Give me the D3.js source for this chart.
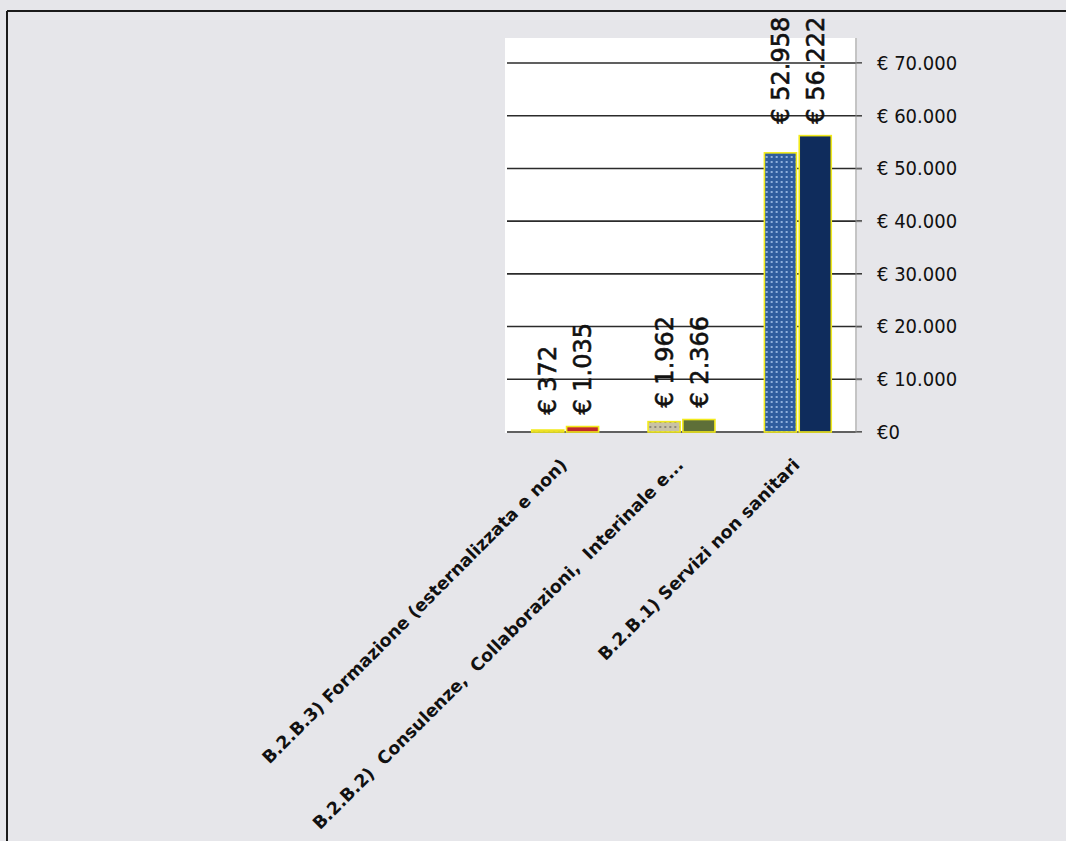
<!DOCTYPE HTML>
<html lang="it">
  <head>
    <meta charset="utf-8">
    <style>
      body{ margin:0; background:#e6e6ea; }
      .grid line{ stroke:#2b2b2b; stroke-width:1.6px; }
      .axis path, .axis line{ stroke:#8a8a8a; }
      .axis text{ font: 20px "DejaVu Sans Condensed", sans-serif; fill:#111; }
      .vlabel{ font: 24px "DejaVu Sans", sans-serif; fill:#111; stroke:#111; stroke-width:0.6px; }
      .clabel{ font: bold 17.5px "DejaVu Sans", sans-serif; fill:#111; white-space:pre; }
    </style>
  </head>
  <body>
    <script src="https://d3js.org/d3.v7.min.js"></script>
    <script>

      // dati (euro, migliaia)
      var categories = ["B.2.B.3) Formazione (esternalizzata e non)",
			"B.2.B.2)  Consulenze,  Collaborazioni,  Interinale e...",
			"B.2.B.1) Servizi non sanitari"];
      var series1 = [372, 1962, 52958];
      var series2 = [1035, 2366, 56222];
      var yTicks = [0, 10000, 20000, 30000, 40000, 50000, 60000, 70000];

      var solidColor = ["#c0282e", "#5e6f38", "#0f2c5c"];
      var patternBase = ["#d9b84a", "#c9c2a6", "#2f5d9e"];

      var W = 1066, H = 841;
      var plot = {left:507, right:856, top:38, bottom:432};

      var svg = d3.select("body").append("svg")
	  .attr("width", W)
	  .attr("height", H);

      // frame of the scanned page
      svg.append("line").attr("x1", 7).attr("x2", W).attr("y1", 11).attr("y2", 11)
	  .attr("stroke", "#1a1a1a").attr("stroke-width", 2.2);
      svg.append("line").attr("x1", 7).attr("x2", 7).attr("y1", 11).attr("y2", H)
	  .attr("stroke", "#1a1a1a").attr("stroke-width", 2);

      // patterns for first series
      var defs = svg.append("defs");
      patternBase.forEach(function(c, i){
	  var p = defs.append("pattern")
	      .attr("id", "pat" + i)
	      .attr("width", 5).attr("height", 5)
	      .attr("patternUnits", "userSpaceOnUse");
	  p.append("rect").attr("width", 5).attr("height", 5).attr("fill", c);
	  p.append("rect").attr("x", 1).attr("y", 1).attr("width", 2).attr("height", 2)
	      .attr("fill", i == 2 ? "#8fb0dc" : "#8e8a78");
      });

      // white plot area
      svg.append("rect")
	  .attr("x", plot.left - 2).attr("y", plot.top)
	  .attr("width", plot.right - plot.left + 3)
	  .attr("height", plot.bottom - plot.top + 1)
	  .attr("fill", "#ffffff");

      var x0 = d3.scaleBand().domain(categories)
	  .range([plot.left, plot.right]).paddingInner(0).paddingOuter(0);
      var x1 = d3.scaleBand().domain([0, 1])
	  .range([0, x0.bandwidth()]).paddingInner(0.08).paddingOuter(0.71);
      var y = d3.scaleLinear().domain([0, 70000])
	  .range([plot.bottom, plot.bottom - 369]);

      var it = d3.formatLocale({decimal:",", thousands:".", grouping:[3], currency:["€ ", ""]});
      var fmt = it.format(",.0f");

      // gridlines
      svg.append("g").attr("class", "grid")
	  .selectAll("line").data(yTicks).enter().append("line")
	  .attr("x1", plot.left).attr("x2", plot.right + 6)
	  .attr("y1", function(d){ return y(d); })
	  .attr("y2", function(d){ return y(d); });

      // right axis
      var axis = svg.append("g").attr("class", "axis")
	  .attr("transform", "translate(" + plot.right + ",0)")
	  .call(d3.axisRight(y).tickValues(yTicks).tickSize(6).tickPadding(15)
		.tickFormat(function(d){ return d == 0 ? "€0" : "€ " + fmt(d); }));
      axis.select(".domain").attr("d", "M0," + plot.top + "V" + (plot.bottom + 1));

      // bars
      var groups = svg.append("g").selectAll("g")
	  .data(categories).enter().append("g")
	  .attr("transform", function(d){ return "translate(" + x0(d) + ",0)"; });

      groups.each(function(cat, i){
	  var g = d3.select(this);
	  var vals = [series1[i], series2[i]];
	  g.selectAll("rect").data(vals).enter().append("rect")
	      .attr("x", function(d, j){ return x1(j); })
	      .attr("width", x1.bandwidth())
	      .attr("y", function(d){ return y(d); })
	      .attr("height", function(d){ return y(0) - y(d); })
	      .attr("fill", function(d, j){ return j == 0 ? "url(#pat" + i + ")" : solidColor[i]; })
	      .attr("stroke", "#f2ea1c")
	      .attr("stroke-width", 1.6);

	  // value labels, aligned per category above the taller bar
	  var top = y(Math.max(vals[0], vals[1])) - 12;
	  g.selectAll("text").data(vals).enter().append("text")
	      .attr("class", "vlabel")
	      .attr("transform", function(d, j){
		  return "translate(" + (x1(j) + x1.bandwidth()/2) + "," + top + ") rotate(-90)";})
	      .attr("dy", "0.36em")
	      .text(function(d){ return "€ " + fmt(d); });
      });

      // category labels
      svg.append("g").selectAll("text")
	  .data(categories).enter().append("text")
	  .attr("class", "clabel")
	  .attr("text-anchor", "end")
	  .attr("transform", function(d){
	      return "translate(" + (x0(d) + x0.bandwidth()/2 + 3) + "," + (plot.bottom + 34) + ") rotate(-45)";})
	  .text(function(d){ return d; });

    </script>
  </body>
</html>
